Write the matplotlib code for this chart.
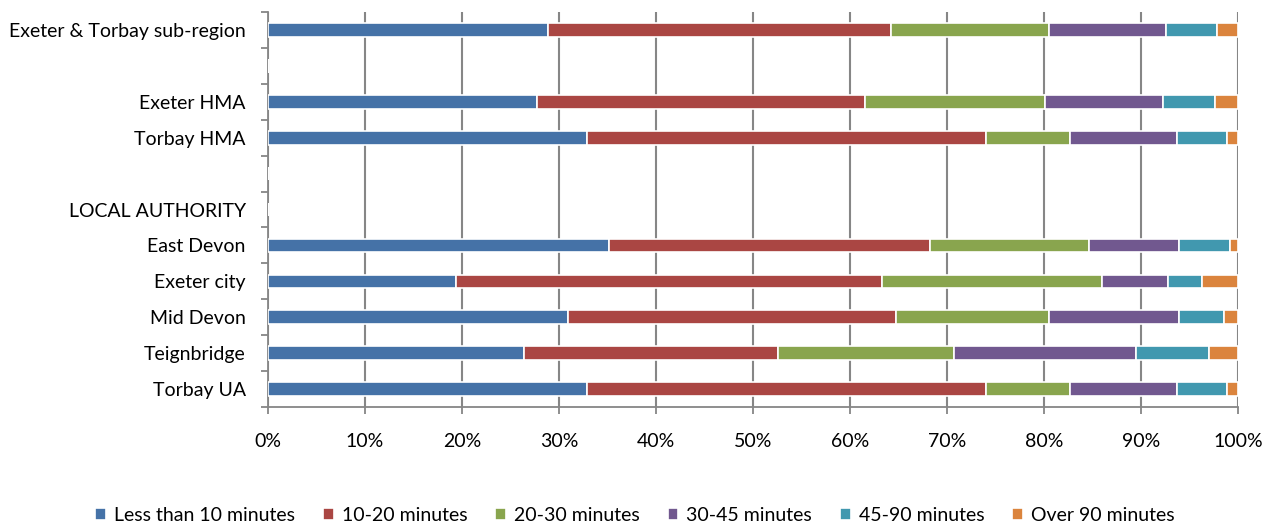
import matplotlib
matplotlib.use("Agg")
import matplotlib.pyplot as plt
import numpy as np

plt.rcParams['font.family'] = ['Lato', 'DejaVu Sans']

categories = ["Exeter & Torbay sub-region", "", "Exeter HMA", "Torbay HMA", "",
              "LOCAL AUTHORITY", "East Devon", "Exeter city", "Mid Devon",
              "Teignbridge", "Torbay UA"]
series_names = ["Less than 10 minutes", "10-20 minutes", "20-30 minutes",
                "30-45 minutes", "45-90 minutes", "Over 90 minutes"]
nan = np.nan
less10 = [28.9, nan, 27.7, 32.9, nan, nan, 35.2, 19.4, 30.9, 26.4, 32.9]
m10_20 = [35.3, nan, 33.8, 41.1, nan, nan, 33.0, 43.9, 33.8, 26.2, 41.1]
m20_30 = [16.3, nan, 18.6, 8.7, nan, nan, 16.4, 22.7, 15.8, 18.1, 8.7]
m30_45 = [12.1, nan, 12.2, 11.0, nan, nan, 9.3, 6.8, 13.4, 18.8, 11.0]
m45_90 = [5.2, nan, 5.3, 5.2, nan, nan, 5.3, 3.5, 4.7, 7.5, 5.2]
over90 = [2.2, nan, 2.4, 1.1, nan, nan, 0.8, 3.7, 1.4, 3.0, 1.1]
colors = ["#4572A7", "#AA4643", "#89A54E", "#71588F", "#4198AF", "#DB843D"]

series = [less10, m10_20, m20_30, m30_45, m45_90, over90]

fig = plt.figure(figsize=(12.7, 5.27), dpi=100)
ax = fig.add_axes([0.211, 0.2277, 0.7638, 0.7495])

y = np.arange(len(categories))
left = np.zeros(len(categories))
for vals, name, c in zip(series, series_names, colors):
    v = np.nan_to_num(np.array(vals, dtype=float))
    ax.barh(y, v, left=left, height=0.38, color=c, edgecolor="white",
            linewidth=1.2, label=name, zorder=3)
    left += v

ax.set_xlim(0, 100)
ax.set_ylim(len(categories) - 0.5, -0.5)
ax.set_xticks(np.arange(0, 101, 10))
ax.set_xticklabels([f"{t}%" for t in range(0, 101, 10)], fontsize=14)
ax.set_yticks(y)
ax.set_yticklabels(categories, fontsize=14)
ax.set_yticks(np.arange(-0.5, len(categories), 1), minor=True)
ax.tick_params(axis='y', which='major', length=0, pad=16)
ax.tick_params(axis='y', which='minor', length=5, color="#868686", width=1.3)
ax.tick_params(axis='x', which='major', length=5, color="#868686", width=1.3, pad=14)
ax.grid(axis='x', color="#868686", linewidth=1.5, zorder=0)
for s in ['top', 'right']:
    ax.spines[s].set_visible(False)
for s in ['left', 'bottom']:
    ax.spines[s].set_color("#868686")
    ax.spines[s].set_linewidth(1.3)

handles, labels = ax.get_legend_handles_labels()
fig.legend(handles, labels, loc='center', bbox_to_anchor=(0.5, 0.022), ncol=6,
           frameon=False, fontsize=14, handlelength=0.55, handleheight=0.55,
           handletextpad=0.4, columnspacing=1.45)

fig.savefig("out.png", dpi=100)
